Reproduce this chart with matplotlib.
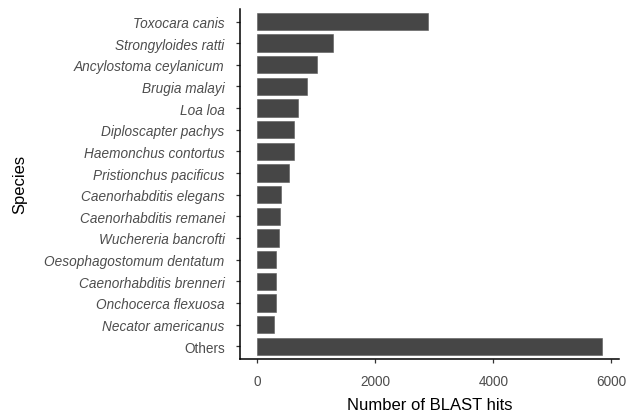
import matplotlib
matplotlib.use("Agg")
import matplotlib.pyplot as plt

plt.rcParams['font.family'] = ['Liberation Sans', 'DejaVu Sans']

# BLAST hit counts per species (top to bottom as displayed)
species = ['Toxocara canis', 'Strongyloides ratti', 'Ancylostoma ceylanicum',
           'Brugia malayi', 'Loa loa', 'Diploscapter pachys',
           'Haemonchus contortus', 'Pristionchus pacificus',
           'Caenorhabditis elegans', 'Caenorhabditis remanei',
           'Wuchereria bancrofti', 'Oesophagostomum dentatum',
           'Caenorhabditis brenneri', 'Onchocerca flexuosa',
           'Necator americanus', 'Others']
hits = [2890, 1277, 1018, 844, 698, 630, 624, 546,
        405, 388, 371, 326, 326, 315, 287, 5834]
xticks = [0, 2000, 4000, 6000]

fig = plt.figure(figsize=(6.4, 4.14), dpi=100)
ax = fig.add_axes([0.375, 0.130, 0.592, 0.847])

n = len(species)
ypos = list(range(n))
ax.barh(ypos, hits, height=0.8, color='#464646', edgecolor='#5a5a5a', linewidth=0.4)
ax.set_ylim(n - 1 + 0.6, -0.6)
ax.set_yticks(ypos)
ax.set_yticklabels(species)
for lab, s in zip(ax.get_yticklabels(), species):
    if s != 'Others':
        lab.set_fontstyle('italic')

xmax = max(hits)
pad = xmax * 0.05
ax.set_xlim(-pad, xmax + pad)
ax.set_xticks(xticks)

ax.tick_params(axis='both', labelsize=9.8, labelcolor='#4d4d4d', color='#333333',
               length=3, width=0.9)
ax.tick_params(axis='y', pad=8)
ax.tick_params(axis='x', pad=8)

for side in ['top', 'right']:
    ax.spines[side].set_visible(False)
for side in ['left', 'bottom']:
    ax.spines[side].set_linewidth(1.1)
    ax.spines[side].set_color('black')

ax.set_xlabel('Number of BLAST hits', fontsize=12, labelpad=6)
ax.set_ylabel('Species', fontsize=12)
ax.yaxis.set_label_coords(-0.562, 0.5)

fig.savefig('out.png', dpi=100)
